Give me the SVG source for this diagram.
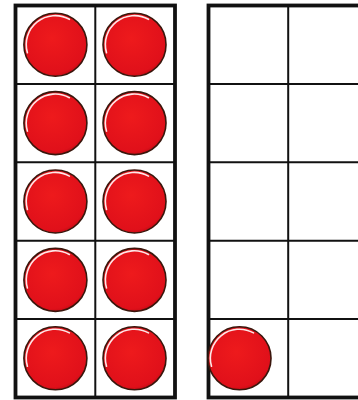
<svg xmlns="http://www.w3.org/2000/svg" xmlns:xlink="http://www.w3.org/1999/xlink" width="358" height="400" viewBox="0 0 358 400">
<style>
.outer{fill:none;stroke:#111;stroke-width:3.8}
.inner{stroke:#111;stroke-width:2}
.disc{fill:url(#redg);stroke:#3a160c;stroke-width:1.6}
.hl{fill:none;stroke:#fff;stroke-width:1.6;stroke-linecap:round;opacity:0.9}
</style>
<defs>
<radialGradient id="redg" cx="0.45" cy="0.4" r="0.65">
<stop offset="0" stop-color="#ee1a1c"/>
<stop offset="0.85" stop-color="#e0101a"/>
<stop offset="1" stop-color="#b50a12"/>
</radialGradient>
<g id="counter">
<circle class="disc" cx="0" cy="0" r="31.5"/>
<path class="hl" d="M -28 8 A 29 29 0 0 1 14 -25.4"/>
</g>
</defs>
<rect width="358" height="400" fill="#fff"/>
<g id="frame-left">
<rect class="outer" x="15.5" y="5.5" width="159.5" height="392"/>
<line class="inner" x1="95.3" y1="5.5" x2="95.3" y2="397.5"/>
<line class="inner" x1="15.5" y1="83.9" x2="175" y2="83.9"/>
<line class="inner" x1="15.5" y1="162.3" x2="175" y2="162.3"/>
<line class="inner" x1="15.5" y1="240.7" x2="175" y2="240.7"/>
<line class="inner" x1="15.5" y1="319.1" x2="175" y2="319.1"/>
</g>
<g id="frame-right">
<rect class="outer" x="208.5" y="5.5" width="159.5" height="392"/>
<line class="inner" x1="288.2" y1="5.5" x2="288.2" y2="397.5"/>
<line class="inner" x1="208.5" y1="83.9" x2="368" y2="83.9"/>
<line class="inner" x1="208.5" y1="162.3" x2="368" y2="162.3"/>
<line class="inner" x1="208.5" y1="240.7" x2="368" y2="240.7"/>
<line class="inner" x1="208.5" y1="319.1" x2="368" y2="319.1"/>
</g>
<g id="counters">
<use xlink:href="#counter" x="55.4" y="44.7"/>
<use xlink:href="#counter" x="134.5" y="44.7"/>
<use xlink:href="#counter" x="55.4" y="123.1"/>
<use xlink:href="#counter" x="134.5" y="123.1"/>
<use xlink:href="#counter" x="55.4" y="201.5"/>
<use xlink:href="#counter" x="134.5" y="201.5"/>
<use xlink:href="#counter" x="55.4" y="279.9"/>
<use xlink:href="#counter" x="134.5" y="279.9"/>
<use xlink:href="#counter" x="55.4" y="358.3"/>
<use xlink:href="#counter" x="134.5" y="358.3"/>
<use xlink:href="#counter" x="239.5" y="358.3"/>
</g>
</svg>
